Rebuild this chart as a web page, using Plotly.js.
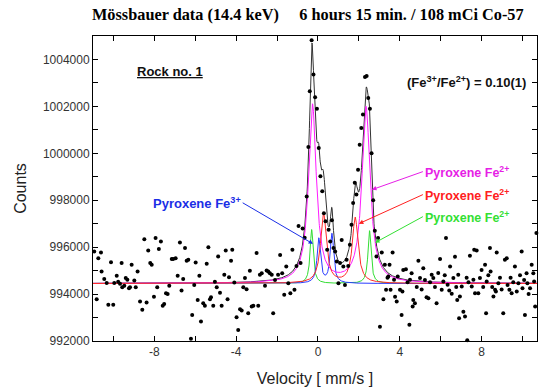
<!DOCTYPE html>
<html><head><meta charset="utf-8">
<script src="https://cdn.plot.ly/plotly-3.0.1.min.js"></script>
<style>html,body{margin:0;padding:0;background:#fff}</style>
</head><body><div id="chart" style="width:540px;height:387px"></div>
<script>
const velocity = [
-10.94,-10.82,-10.74,-10.61,-10.58,-10.45,-10.33,-10.25,-10.12,-10.01,-9.96,-9.84,-9.77,-9.68,-9.60,-9.57,-9.47,-9.40,-9.32,-9.24,
-9.19,-9.11,-8.98,-8.91,-8.82,-8.70,-8.59,-8.49,-8.38,-8.30,-8.20,-8.13,-8.02,-7.94,-7.86,-7.78,-7.68,-7.59,-7.52,-7.43,
-7.35,-7.27,-7.15,-7.08,-6.96,-6.86,-6.75,-6.67,-6.59,-6.50,-6.42,-6.34,-6.21,-6.15,-6.05,-5.98,-5.88,-5.80,-5.72,-5.61,
-5.53,-5.44,-5.36,-5.28,-5.23,-5.12,-5.04,-4.95,-4.88,-4.79,-4.71,-4.58,-4.51,-4.42,-4.35,-4.25,-4.19,-4.09,-3.98,-3.90,
-3.81,-3.73,-3.65,-3.57,-3.49,-3.41,-3.33,-3.24,-3.16,-3.00,-2.92,-2.84,-2.75,-2.59,-2.51,-2.43,-2.35,-2.26,-2.19,-2.10,
-1.95,-1.85,-1.75,-1.65,-1.55,-1.45,-1.35,-1.25,-1.15,-1.05,-0.95,-0.85,-0.75,-0.65,-0.55,-0.47,-0.40,-0.31,-0.22,-0.14,
-0.05,0.04,0.12,0.21,0.29,0.37,0.45,0.52,0.60,0.68,0.76,0.84,0.92,1.00,1.08,1.16,1.24,1.32,1.40,1.48,
1.56,1.64,1.72,1.80,1.88,1.96,2.04,2.12,2.20,2.30,2.38,2.46,2.54,2.62,2.70,2.78,2.86,2.94,3.03,3.12,
3.20,3.27,3.33,3.40,3.44,3.50,3.55,3.65,3.72,3.77,3.85,3.90,4.01,4.09,4.13,4.17,4.30,4.38,4.47,4.50,
4.58,4.63,4.66,4.74,4.83,4.91,4.99,5.07,5.15,5.23,5.31,5.40,5.48,5.56,5.64,5.72,5.80,5.88,5.97,6.05,
6.11,6.13,6.20,6.26,6.34,6.42,6.46,6.54,6.62,6.70,6.76,6.81,6.86,6.90,6.94,7.03,7.11,7.19,7.27,7.30,
7.36,7.43,7.52,7.60,7.64,7.68,7.76,7.84,7.92,8.00,8.08,8.17,8.22,8.25,8.33,8.41,8.44,8.52,8.58,8.66,
8.70,8.74,8.82,8.90,8.98,9.06,9.14,9.23,9.27,9.36,9.42,9.47,9.55,9.63,9.72,9.80,9.88,9.96,10.00,10.08,
10.12,10.20,10.24,10.30,10.37,10.45,10.53,10.57,10.62,10.68
];
const counts = [
995820,993780,995530,995770,994960,994640,994470,993540,995360,993540,994470,994780,994530,994440,995320,994290,994350,994680,994610,994250,
994290,995250,994580,994290,994960,993680,993330,996340,993640,995860,995320,995250,993890,996390,994290,995920,996240,993500,993580,994040,
994000,994350,995490,995500,995530,994780,996200,994150,994640,995960,995420,995460,992100,993110,994390,995350,993750,994780,992830,993610,
993500,995290,996000,993780,993870,993500,994530,994290,995600,994060,993500,994820,995860,993780,994720,995420,995890,994490,993010,992470,
993350,993300,994290,994680,994210,993180,994990,993470,993500,995750,993500,994820,994890,994350,995000,994960,994890,994820,993180,994600,
994820,995670,994890,993970,995180,994460,994040,995890,994180,995200,996900,995320,996800,996400,998160,1000270,1002650,1004820,1003360,1002390,
1001900,1000230,999020,998380,997450,997100,995890,996740,996240,997150,995960,995820,995390,994460,995320,996310,995180,994390,995460,995200,
996100,996950,997880,998740,998240,999300,1000370,1001080,1001650,1003250,1003290,1002360,1001900,1000000,998000,996700,995600,996390,992610,995770,
993780,995250,994180,994700,994750,995250,994180,995770,994610,993890,993680,994750,994180,993110,994110,995030,995060,994500,992690,994610,
994890,993470,993750,993610,994300,995420,994680,994200,995100,994600,993870,993820,994500,994820,994680,994300,993610,994900,995490,994180,
991780,994540,994800,996390,994400,994150,995180,994010,994680,995590,994300,993750,994820,992970,993900,994320,993250,993040,994700,992030,
994500,995630,994320,994610,995890,994040,995860,994040,994680,995030,994300,995250,993180,994540,994800,995960,994960,994300,993900,994180,
994110,995770,994460,994700,994200,993180,995460,995530,994390,994180,994700,994040,994500,995180,994110,994460,994800,995820,994250,994600,
993110,994890,994460,994000,994250,995250,994890,994540,993470,996600
];

// Fit model (Lorentzian sub-spectra) parameters
const baseline = 994450;
const magentaCenters = [-0.27, 2.35];
const magentaDepths = [7600, 7500];
const magentaHWHM = [0.23, 0.24];
const redCenters = [0.27, 1.82];
const redDepths = [3000, 2800];
const redHWHM = [0.17, 0.17];
const greenCenters = [-0.31, 2.52];
const greenDepths = [2300, 2250];
const greenHWHM = [0.09, 0.09];
const blueCenters = [0.04, 0.68];
const blueDepths = [1900, 2100];
const blueHWHM = [0.10, 0.10];

// Axis ticks
const xTickVals = [-8, -4, 0, 4, 8];
const xTickText = ['-8', '-4', '0', '4', '8'];
const xMinorVals = [-10, -6, -2, 2, 6, 10];
const yTickVals = [992000, 994000, 996000, 998000, 1000000, 1002000, 1004000];
const yTickText = ['992000', '994000', '996000', '998000', '1000000', '1002000', '1004000'];
const yMinorVals = [993000, 995000, 997000, 999000, 1001000, 1003000];

const vGrid = [];
for (let i = 0; i <= 2171; i++) vGrid.push(-11 + i * 0.01);
function lor(v, c, d, w) { return d / (1 + ((v - c) / w) ** 2); }
function comp(cs, ds, ws) {
  return vGrid.map(v => cs.reduce((s, c, i) => s + lor(v, c, ds[i], ws[i]), 0));
}
const mag = comp(magentaCenters, magentaDepths, magentaHWHM);
const red = comp(redCenters, redDepths, redHWHM);
const grn = comp(greenCenters, greenDepths, greenHWHM);
const blu = comp(blueCenters, blueDepths, blueHWHM);
const total = vGrid.map((v, i) => baseline + mag[i] + red[i] + grn[i] + blu[i]);
const withBase = a => a.map(y => baseline + y);

const line = (y, color) => ({x: vGrid, y: y, mode: 'lines', line: {color: color, width: 1}, hoverinfo: 'skip', showlegend: false});
const traces = [
  line(total, '#333333'),
  line(withBase(grn), '#33dd33'),
  line(withBase(blu), '#2a3cff'),
  line(withBase(mag), '#ff1aff'),
  line(withBase(red), '#ff2a2a'),
  {x: velocity, y: counts, mode: 'markers', marker: {color: '#000', size: 4}, cliponaxis: false, showlegend: false}
];

const sans = 'Liberation Sans, Arial, sans-serif';
// label with an arrow: text box anchored at the tail (tx, ty), arrow head at (hx, hy)
const arrowLabel = (hx, hy, tx, ty, text, color, anchor, size) => ({
  x: hx, y: hy, ax: tx, ay: ty, xref: 'x', yref: 'y', axref: 'x', ayref: 'y',
  xanchor: anchor, yanchor: 'middle', text: text, showarrow: true,
  arrowhead: 2, arrowsize: 0.9, arrowwidth: 1, arrowcolor: color, standoff: 0, startstandoff: 0,
  font: {family: sans, size: size, color: color, weight: 'bold'}});

const axisCommon = {
  showline: true, linecolor: '#000', linewidth: 1, mirror: 'ticks',
  ticks: 'inside', ticklen: 5, tickwidth: 1, tickcolor: '#000', tickmode: 'array',
  showgrid: false, zeroline: false, tickfont: {family: sans, size: 12, color: '#333'}
};

const layout = {
  width: 540, height: 387,
  margin: {l: 93, r: 3, t: 36, b: 46},
  paper_bgcolor: '#fff', plot_bgcolor: '#fff',
  showlegend: false,
  title: {text: 'Mössbauer data (14.4 keV)\u00a0\u00a0\u00a0\u00a0 6 hours 15 min. / 108 mCi Co-57',
    x: 92/540, xanchor: 'left', xref: 'container', y: 1 - 14.5/387, yanchor: 'middle',
    font: {family: 'Liberation Serif, Times New Roman, serif', size: 16.3, color: '#000', weight: 'bold'}},
  xaxis: Object.assign({}, axisCommon, {range: [-11, 10.71], tickvals: xTickVals, ticktext: xTickText,
    minor: {tickmode: 'array', tickvals: xMinorVals, ticks: 'inside', ticklen: 5, tickwidth: 1, tickcolor: '#000', showgrid: false},
    title: {text: 'Velocity [ mm/s ]', font: {family: sans, size: 16, color: '#222'}, standoff: 14}}),
  yaxis: Object.assign({}, axisCommon, {range: [992000, 1005000], tickvals: yTickVals, ticktext: yTickText,
    minor: {tickmode: 'array', tickvals: yMinorVals, ticks: 'inside', ticklen: 5, tickwidth: 1, tickcolor: '#000', showgrid: false},
    title: {text: 'Counts', font: {family: sans, size: 16, color: '#222'}, standoff: 12}}),
  annotations: [
    {x: -8.95, y: 1003490, xref: 'x', yref: 'y', xanchor: 'left', yanchor: 'middle', showarrow: false,
     text: 'Rock no. 1', font: {family: sans, size: 13, color: '#111', weight: 'bold', lineposition: 'under'}},
    {x: 10.27, y: 1003060, xref: 'x', yref: 'y', xanchor: 'right', yanchor: 'middle', showarrow: false,
     text: '(Fe<sup>3+</sup>/Fe<sup>2+</sup>) = 0.10(1)', font: {family: sans, size: 13, color: '#111', weight: 'bold'}},
    arrowLabel(2.64, 998450, 5.13, 999220, 'Pyroxene Fe<sup>2+</sup>', '#e61ee6', 'left', 12.5),
    arrowLabel(2.00, 997000, 5.13, 998240, 'Pyroxene Fe<sup>2+</sup>', '#ff2020', 'left', 12.5),
    arrowLabel(2.79, 996190, 5.13, 997300, 'Pyroxene Fe<sup>2+</sup>', '#33e033', 'left', 12.5),
    arrowLabel(-0.24, 996140, -3.68, 997890, 'Pyroxene Fe<sup>3+</sup>', '#1a2ee6', 'right', 13)
  ]
};
Plotly.newPlot('chart', traces, layout, {staticPlot: true, displayModeBar: false});
</script></body></html>
